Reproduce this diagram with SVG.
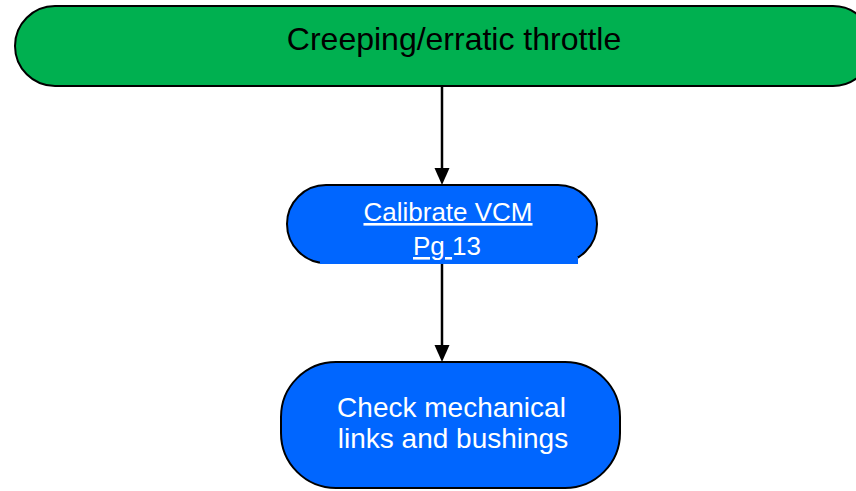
<svg xmlns="http://www.w3.org/2000/svg" width="856" height="491" viewBox="0 0 856 491">
  <defs>
    <style>
      .box { stroke: #000; stroke-width: 2; }
      .green { fill: #00B050; }
      .blue { fill: #0066FF; }
      .label { font-family: "Liberation Sans", Arial, sans-serif; text-anchor: middle; }
      .dark { fill: #000; }
      .light { fill: #fff; }
      .wire { stroke: #000; stroke-width: 2.5; fill: none; }
      .tip { fill: #000; }
    </style>
  </defs>

  <rect width="856" height="491" fill="#fff"/>

  <!-- connectors -->
  <g id="connectors">
    <line class="wire" x1="442" y1="86" x2="442" y2="170"/>
    <polygon class="tip" points="434.5,168 449.5,168 442,185"/>
    <line class="wire" x1="442" y1="264" x2="442" y2="347"/>
    <polygon class="tip" points="434.5,345 449.5,345 442,362"/>
  </g>

  <!-- start node -->
  <g id="node-start">
    <rect class="box green" x="15" y="6" width="858" height="80" rx="40" ry="40"/>
    <text class="label dark" x="454" y="50" font-size="32">Creeping/erratic throttle</text>
  </g>

  <!-- calibration step -->
  <g id="node-calibrate">
    <rect class="box blue" x="287" y="185" width="310" height="78" rx="39" ry="39"/>
    <rect class="blue" x="320" y="257" width="258" height="7"/>
    <text class="label light" x="448" y="221" font-size="26" text-decoration="underline">Calibrate VCM</text>
    <text class="label light" x="447" y="255" font-size="26"><tspan text-decoration="underline">Pg </tspan>13</text>
  </g>

  <!-- final check -->
  <g id="node-check">
    <rect class="box blue" x="281" y="362" width="339" height="126" rx="55" ry="55"/>
    <text class="label light" x="451.5" y="417" font-size="28">Check mechanical</text>
    <text class="label light" x="453" y="448" font-size="28">links and bushings</text>
  </g>
</svg>
